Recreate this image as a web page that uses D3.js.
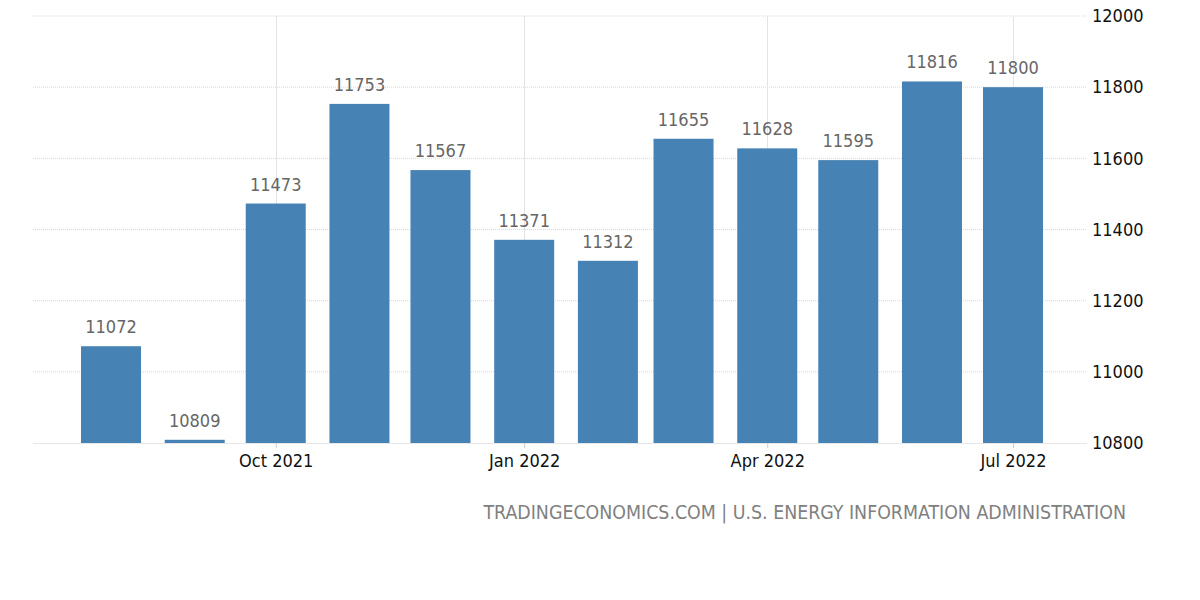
<!DOCTYPE html>
<html><head><meta charset="utf-8">
<script src="https://cdn.jsdelivr.net/npm/d3@7"></script>
<style>body{margin:0;background:#fff}svg{display:block}</style>
</head><body>
<svg id="c" width="1200" height="600"></svg>
<script>
const months = ["2021-08","2021-09","2021-10","2021-11","2021-12","2022-01","2022-02","2022-03","2022-04","2022-05","2022-06","2022-07"];
const values = [11072,10809,11473,11753,11567,11371,11312,11655,11628,11595,11816,11800];
const yTicks = [10800,11000,11200,11400,11600,11800,12000];
const xTickDates = ["2021-10","2022-01","2022-04","2022-07"];
const source = "TRADINGECONOMICS.COM | U.S. ENERGY INFORMATION ADMINISTRATION";

const parse = d3.timeParse("%Y-%m");
const svg = d3.select("#c");
const font = "'DejaVu Sans Condensed', 'DejaVu Sans', sans-serif";

const x = d3.scaleTime().domain([parse("2021-08"), parse("2022-07")]).range([111, 1013]);
const y = d3.scaleLinear().domain([10800, 12000]).range([443, 16]);
const left = 33, right = 1087, barW = 60;

function fitText(sel, target) {
  const w = sel.node().getComputedTextLength();
  const fs = parseFloat(sel.attr("font-size"));
  sel.attr("font-size", fs * target / w);
}

// horizontal gridlines
svg.append("g").selectAll("line").data(yTicks.filter(t => t !== 10800)).join("line")
  .attr("x1", left).attr("x2", right)
  .attr("y1", d => y(d)).attr("y2", d => y(d))
  .attr("stroke", "#d9d9d9").attr("stroke-width", 1).attr("stroke-dasharray", "1,1");

// vertical gridlines
svg.append("g").selectAll("line").data(xTickDates).join("line")
  .attr("x1", d => Math.round(x(parse(d))) + 0.5).attr("x2", d => Math.round(x(parse(d))) + 0.5)
  .attr("y1", y(12000)).attr("y2", y(10800))
  .attr("stroke", "#e3e3e3").attr("stroke-width", 1);

// bars
svg.append("g").selectAll("rect").data(months).join("rect")
  .attr("x", d => x(parse(d)) - barW / 2)
  .attr("width", barW)
  .attr("y", (d, i) => y(values[i]))
  .attr("height", (d, i) => y(10800) - y(values[i]))
  .attr("fill", "#4682b4");

// baseline
svg.append("line").attr("x1", left).attr("x2", right)
  .attr("y1", y(10800) + 0.5).attr("y2", y(10800) + 0.5)
  .attr("stroke", "#e6e6e6").attr("stroke-width", 1);

// value labels
svg.append("g").selectAll("text").data(months).join("text")
  .attr("x", d => x(parse(d)))
  .attr("y", (d, i) => y(values[i]) - 13)
  .attr("text-anchor", "middle")
  .attr("font-family", font).attr("font-size", 18)
  .attr("fill", "#666666")
  .text((d, i) => values[i]);

// x axis
const xAxis = d3.axisBottom(x).tickValues(xTickDates.map(parse))
  .tickFormat(d3.timeFormat("%b %Y")).tickSize(5).tickPadding(6);
const gx = svg.append("g").attr("transform", `translate(0,${y(10800)})`).call(xAxis);
gx.select(".domain").remove();
gx.selectAll(".tick line").attr("stroke", "#cccccc");
gx.selectAll(".tick text").attr("font-family", font).attr("font-size", 18).attr("fill", "#111");

// y axis (right)
const yAxis = d3.axisRight(y).tickValues(yTicks).tickFormat(d3.format("d")).tickSize(0).tickPadding(0);
const gy = svg.append("g").attr("transform", `translate(1092,0)`).call(yAxis);
gy.select(".domain").remove();
gy.selectAll(".tick text").attr("font-family", font).attr("font-size", 18).attr("fill", "#111");

// source
const st = svg.append("text").attr("x", 1126).attr("y", 519)
  .attr("text-anchor", "end").attr("font-family", font).attr("font-size", 18)
  .attr("fill", "#808080").text(source);
fitText(st, 643);
</script>
</body></html>
